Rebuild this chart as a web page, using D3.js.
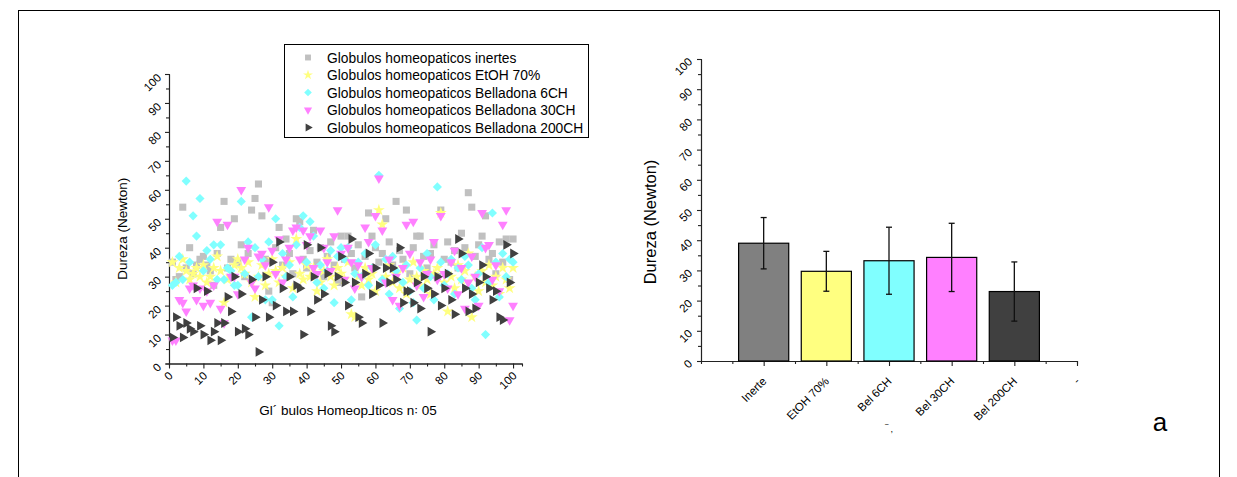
<!DOCTYPE html>
<html>
<head>
<meta charset="utf-8">
<script src="https://cdn.jsdelivr.net/npm/d3@7"></script>
<style>
  body { margin: 0; background: #fff; }
  svg { display: block; }
  text { font-family: "Liberation Sans", Arial, sans-serif; fill: #000; }
</style>
</head>
<body>
<svg id="chart" width="1237" height="477"></svg>
<script>
// ---- Scatter: hardness of each globule (n = 1..100) per group ----
const seriesNames = [
  "Globulos homeopaticos inertes",
  "Globulos homeopaticos EtOH 70%",
  "Globulos homeopaticos Belladona 6CH",
  "Globulos homeopaticos Belladona 30CH",
  "Globulos homeopaticos Belladona 200CH"
];

const inertes = [
  35, 29, 30, 54, 33, 40, 31, 34, 36, 37,
  34, 32, 27, 38, 47, 56, 33, 36, 50, 35,
  41, 30, 38, 53, 57, 62, 51, 36, 25, 21,
  40, 47, 34, 43, 38, 31, 50, 49, 36, 33,
  39, 46, 35, 40, 30, 37, 42, 34, 28, 44,
  36, 44, 38, 33, 41, 23, 37, 52, 44, 40,
  35, 38, 50, 42, 34, 56, 39, 36, 53, 31,
  40, 44, 44, 37, 33, 38, 41, 30, 53, 36,
  42, 35, 39, 33, 45, 40, 59, 54, 37, 41,
  44, 51, 36, 38, 31, 42, 35, 43, 29, 43
];

const etoh70 = [
  35, 28, 33, 36, 32, 29, 31, 33, 30, 34,
  28, 30, 33, 37, 32, 21, 29, 30, 34, 36,
  33, 31, 35, 28, 23, 30, 34, 27, 31, 36,
  32, 28, 33, 30, 35, 26, 43, 31, 29, 34,
  30, 33, 25, 28, 32, 36, 30, 27, 33, 31,
  29, 35, 17, 16, 30, 27, 33, 29, 31, 25,
  53, 48, 30, 34, 28, 31, 26, 33, 24, 29,
  35, 30, 27, 32, 29, 24, 31, 33, 52, 28,
  18, 30, 26, 34, 29, 32, 38, 16, 30, 25,
  32, 28, 34, 27, 30, 24, 33, 29, 26, 33
];

const bel6ch = [
  27, 28, 37, 29, 63, 35, 51, 44, 57, 32,
  39, 36, 41, 29, 41, 29, 33, 32, 27, 27,
  56, 31, 42, 16, 40, 30, 36, 22, 42, 22,
  50, 13, 38, 30, 34, 23, 41, 47, 51, 35,
  49, 44, 28, 34, 26, 32, 39, 21, 37, 40,
  36, 40, 22, 31, 35, 30, 38, 27, 33, 41,
  65, 29, 36, 24, 37, 32, 19, 28, 34, 25,
  21, 15, 33, 26, 38, 30, 22, 61, 35, 27,
  31, 36, 24, 33, 29, 37, 34, 26, 22, 31,
  40, 10, 28, 52, 35, 23, 38, 30, 36, 35
];

const bel30ch = [
  8, 8, 22, 21, 18, 26, 27, 22, 26, 20,
  25, 21, 27, 49, 19, 14, 48, 30, 30, 24,
  60, 36, 40, 28, 26, 37, 38, 34, 54, 39,
  31, 43, 28, 36, 40, 46, 47, 36, 46, 41,
  44, 33, 31, 46, 40, 35, 32, 44, 53, 38,
  29, 40, 35, 26, 34, 30, 47, 42, 33, 51,
  64, 46, 28, 36, 22, 30, 20, 33, 48, 38,
  49, 27, 35, 23, 31, 36, 42, 29, 51, 31,
  26, 35, 39, 24, 33, 19, 28, 37, 30, 20,
  52, 40, 41, 29, 34, 25, 48, 53, 15, 20
];

const bel200ch = [
  9, 16, 13, 9, 14, 12, 11, 26, 13, 10,
  25, 8, 11, 14, 8, 14, 23, 18, 30, 11,
  24, 12, 10, 29, 16, 4, 22, 30, 16, 35,
  20, 42, 26, 18, 30, 18, 27, 26, 10, 41,
  18, 30, 22, 40, 24, 31, 13, 11, 30, 37,
  28, 20, 43, 28, 16, 14, 31, 38, 24, 33,
  27, 14, 33, 28, 33, 29, 40, 21, 25, 25,
  21, 28, 19, 30, 26, 11, 24, 30, 20, 26,
  31, 22, 17, 43, 38, 26, 18, 24, 19, 28,
  34, 30, 26, 22, 25, 16, 15, 41, 28, 38
];

const scatterTicks = [0, 10, 20, 30, 40, 50, 60, 70, 80, 90, 100];
const hardnessTicks = [0, 10, 20, 30, 40, 50, 60, 70, 80, 90, 100];

// ---- Bars: mean ± SD per group ----
const barLabels = ["Inerte", "EtOH 70%", "Bel 6CH", "Bel 30CH", "Bel 200CH", "-"];
const barMeans = [39.0, 29.7, 33.2, 34.3, 23.0];
const barSD = [8.5, 6.6, 11.1, 11.3, 9.8];

const groups = [inertes, etoh70, bel6ch, bel30ch, bel200ch];
const fills = ["#c0c0c0", "#ffff80", "#80ffff", "#ff80ff", "#404040"];
const barFills = ["#808080", "#ffff80", "#80ffff", "#ff80ff", "#404040"];

const svg = d3.select("#chart");

// outer frame
svg.append("rect")
  .attr("x", 18.5).attr("y", 10.5)
  .attr("width", 1201).attr("height", 480)
  .attr("fill", "none").attr("stroke", "#000").attr("stroke-width", 1);

// marker shapes
const shapes = [
  { type: d3.symbolSquare, size: 50, rot: 0 },
  { type: d3.symbolStar, size: 44, rot: 0 },
  { type: d3.symbolSquare, size: 42, rot: 45 },
  { type: d3.symbolTriangle, size: 42, rot: 180 },
  { type: d3.symbolTriangle, size: 42, rot: 90 }
];

function styleAxis(g) {
  g.selectAll(".domain").attr("stroke", "#222").attr("stroke-width", 1.1);
  g.selectAll(".tick line").attr("stroke", "#222").attr("stroke-width", 1.1);
}

// ================= Left: scatter =================
const sx = d3.scaleLinear().domain([0, 102.6]).range([169, 522]);
const sy = d3.scaleLinear().domain([0, 100]).range([363.5, 74]);

// minor ticks
svg.append("g").attr("transform", `translate(0,${sy(0)})`)
  .call(d3.axisBottom(sx).tickValues(d3.range(5, 101, 10)).tickSize(3).tickFormat(""))
  .call(styleAxis);
svg.append("g").attr("transform", `translate(${sx(0)},0)`)
  .call(d3.axisLeft(sy).tickValues(d3.range(5, 100, 10)).tickSize(3).tickFormat(""))
  .call(styleAxis);

const gx = svg.append("g").attr("transform", `translate(0,${sy(0)})`)
  .call(d3.axisBottom(sx).tickValues(scatterTicks).tickSize(5).tickSizeOuter(0))
  .call(styleAxis);
gx.selectAll(".tick text")
  .attr("font-size", 11.5).attr("text-anchor", "end")
  .attr("dy", 0).attr("y", 0)
  .attr("transform", "translate(4,13) rotate(-45)");

const gy = svg.append("g").attr("transform", `translate(${sx(0)},0)`)
  .call(d3.axisLeft(sy).tickValues(hardnessTicks).tickSize(4).tickSizeOuter(0))
  .call(styleAxis);
gy.selectAll(".tick text")
  .attr("font-size", 11.5).attr("text-anchor", "end")
  .attr("dy", 0).attr("x", 0)
  .attr("transform", "translate(-7,4) rotate(-45)");

svg.append("text")
  .attr("transform", `translate(127,${(sy(0) + sy(100)) / 2 + 10}) rotate(-90)`)
  .attr("text-anchor", "middle").attr("font-size", 13.5)
  .text("Dureza (Newton)");

svg.append("text")
  .attr("x", 348).attr("y", 415)
  .attr("text-anchor", "middle").attr("font-size", 13.5)
  .text("Gl´ bulos Homeop⅃ticos n꞉ 05");

// points
groups.forEach((vals, gi) => {
  const sh = shapes[gi];
  const sym = d3.symbol().type(sh.type).size(sh.size);
  svg.append("g").selectAll("path").data(vals).join("path")
    .attr("d", sym)
    .attr("transform", (v, i) => `translate(${sx(i + 1)},${sy(v)}) rotate(${sh.rot})`)
    .attr("fill", fills[gi]);
});

// legend
const lg = svg.append("g");
lg.append("rect").attr("x", 284.5).attr("y", 44.5).attr("width", 304).attr("height", 93)
  .attr("fill", "#fff").attr("stroke", "#000").attr("stroke-width", 1);
seriesNames.forEach((name, i) => {
  const y = 57.5 + i * 17.5;
  const sh = shapes[i];
  lg.append("path")
    .attr("d", d3.symbol().type(sh.type).size(sh.size * 0.7))
    .attr("transform", `translate(308,${y}) rotate(${sh.rot})`)
    .attr("fill", fills[i]);
  lg.append("text").attr("x", 327).attr("y", y + 5)
    .attr("font-size", 13.8).text(name);
});

// ================= Right: bars =================
const bx = d3.scaleLinear().domain([0, 6]).range([701, 1077]);
const by = d3.scaleLinear().domain([0, 100]).range([361, 59]);
const barW = (bx(1) - bx(0)) * 0.8;

svg.append("g").attr("transform", `translate(0,${by(0)})`)
  .call(d3.axisBottom(bx).tickValues(d3.range(0.5, 6, 1)).tickSize(3).tickFormat(""))
  .call(styleAxis);
svg.append("g").attr("transform", `translate(${bx(0)},0)`)
  .call(d3.axisLeft(by).tickValues(d3.range(5, 100, 10)).tickSize(3).tickFormat(""))
  .call(styleAxis);

const bxa = svg.append("g").attr("transform", `translate(0,${by(0)})`)
  .call(d3.axisBottom(bx).tickValues([1, 2, 3, 4, 5, 6]).tickSize(5).tickSizeOuter(0)
    .tickFormat(d => barLabels[d - 1]))
  .call(styleAxis);
bxa.selectAll(".tick text")
  .attr("font-size", 11.5).attr("text-anchor", "end")
  .attr("dy", 0).attr("y", 0)
  .attr("transform", "translate(3,21) rotate(-45)");

const bya = svg.append("g").attr("transform", `translate(${bx(0)},0)`)
  .call(d3.axisLeft(by).tickValues(hardnessTicks).tickSize(4).tickSizeOuter(0))
  .call(styleAxis);
bya.selectAll(".tick text")
  .attr("font-size", 11.5).attr("text-anchor", "end")
  .attr("dy", 0).attr("x", 0)
  .attr("transform", "translate(-8,3) rotate(-45)");

svg.append("text")
  .attr("transform", `translate(656,${(by(0) + by(100)) / 2 + 12}) rotate(-90)`)
  .attr("text-anchor", "middle").attr("font-size", 16.5)
  .text("Dureza (Newton)");

svg.append("text").attr("x", 889).attr("y", 432)
  .attr("text-anchor", "middle").attr("font-size", 9).attr("fill", "#333")
  .text("‾ ‚");

const bars = svg.append("g");
bars.selectAll("rect").data(barMeans).join("rect")
  .attr("x", (d, i) => bx(i + 1) - barW / 2)
  .attr("y", d => by(d))
  .attr("width", barW)
  .attr("height", d => by(0) - by(d))
  .attr("fill", (d, i) => barFills[i])
  .attr("stroke", "#000").attr("stroke-width", 1.2);

const eb = svg.append("g").attr("stroke", "#111").attr("stroke-width", 1.3);
barMeans.forEach((m, i) => {
  const x = bx(i + 1);
  const top = by(m + barSD[i]), bot = by(m - barSD[i]);
  eb.append("line").attr("x1", x).attr("x2", x).attr("y1", top).attr("y2", bot);
  eb.append("line").attr("x1", x - 3).attr("x2", x + 3).attr("y1", top).attr("y2", top);
  eb.append("line").attr("x1", x - 3).attr("x2", x + 3).attr("y1", bot).attr("y2", bot);
});

// panel letter
svg.append("text").attr("x", 1160).attr("y", 431)
  .attr("text-anchor", "middle").attr("font-size", 26)
  .attr("font-family", "Lato, 'Open Sans', sans-serif")
  .text("a");
</script>
</body>
</html>
